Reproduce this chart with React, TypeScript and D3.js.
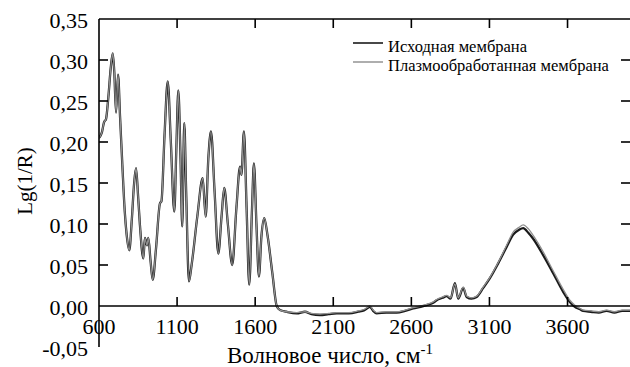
import * as d3 from 'd3';
import { useEffect } from 'react';

// Wavenumbers (cm-1)
const wavenumbers = [
  600, 619, 632, 645, 660, 675, 688, 698, 709, 722, 735, 750, 765, 777, 794, 810, 825, 837, 850, 862,
  884, 894, 907, 916, 930, 944, 965, 990, 1000, 1020, 1040, 1060, 1082, 1095, 1108, 1122, 1133, 1146, 1158, 1176,
  1193, 1230, 1264, 1283, 1300, 1317, 1340, 1364, 1385, 1402, 1425, 1453, 1480, 1503, 1512, 1528, 1545, 1562, 1580, 1592,
  1608, 1624, 1640, 1658, 1680, 1710, 1738, 1759, 1800, 1866, 1919, 1960, 2015, 2070, 2122, 2200, 2260, 2300, 2335, 2355,
  2378, 2440, 2506, 2560, 2612, 2660, 2698, 2740, 2762, 2800, 2826, 2851, 2879, 2900, 2932, 2954, 2985, 3018, 3060, 3103,
  3156, 3210, 3252, 3290, 3316, 3350, 3380, 3444, 3508, 3573, 3615, 3647, 3680, 3700, 3750, 3800, 3850, 3900, 3950, 4000,
];

// Исходная мембрана
const original = [
  0.205, 0.212, 0.224, 0.228, 0.255, 0.29, 0.308, 0.285, 0.236, 0.282, 0.23, 0.17, 0.115, 0.087, 0.068, 0.105, 0.15, 0.168, 0.135, 0.099,
  0.058, 0.083, 0.074, 0.083, 0.055, 0.032, 0.07, 0.125, 0.128, 0.21, 0.274, 0.2, 0.115, 0.19, 0.263, 0.18, 0.097, 0.223, 0.14, 0.03,
  0.05, 0.11, 0.156, 0.109, 0.18, 0.213, 0.14, 0.064, 0.11, 0.144, 0.1, 0.05, 0.12, 0.17, 0.16, 0.213, 0.12, 0.026, 0.12, 0.174,
  0.1, 0.036, 0.085, 0.107, 0.085, 0.04, 0.0, -0.005, -0.007, -0.009, -0.007, -0.01, -0.011, -0.01, -0.009, -0.009, -0.007, -0.005, -0.001, -0.006,
  -0.009, -0.008, -0.008, -0.006, -0.003, -0.001, 0.001, 0.004, 0.007, 0.01, 0.012, 0.009, 0.028, 0.009, 0.022, 0.011, 0.009, 0.011, 0.022, 0.034,
  0.052, 0.072, 0.087, 0.093, 0.095, 0.089, 0.082, 0.062, 0.04, 0.017, 0.005, -0.001, -0.004, -0.006, -0.007, -0.008, -0.006, -0.008, -0.006, -0.006,
];

// Плазмообработанная мембрана
const plasma = [
  0.205, 0.212, 0.224, 0.228, 0.255, 0.29, 0.308, 0.285, 0.236, 0.282, 0.23, 0.17, 0.115, 0.087, 0.068, 0.105, 0.15, 0.168, 0.135, 0.099,
  0.058, 0.083, 0.074, 0.083, 0.055, 0.032, 0.07, 0.125, 0.128, 0.21, 0.274, 0.2, 0.115, 0.19, 0.263, 0.18, 0.097, 0.223, 0.14, 0.03,
  0.05, 0.11, 0.156, 0.109, 0.18, 0.213, 0.14, 0.064, 0.11, 0.144, 0.1, 0.05, 0.12, 0.17, 0.16, 0.213, 0.12, 0.026, 0.12, 0.174,
  0.1, 0.036, 0.085, 0.107, 0.085, 0.04, 0.0, -0.005, -0.007, -0.008, -0.007, -0.009, -0.01, -0.009, -0.008, -0.008, -0.006, -0.004, 0.0, -0.005,
  -0.008, -0.007, -0.007, -0.005, -0.002, 0.0, 0.002, 0.005, 0.008, 0.011, 0.013, 0.01, 0.027, 0.01, 0.023, 0.012, 0.01, 0.012, 0.023, 0.035,
  0.053, 0.074, 0.09, 0.096, 0.099, 0.094, 0.086, 0.066, 0.043, 0.02, 0.007, 0.001, -0.003, -0.005, -0.006, -0.007, -0.005, -0.007, -0.005, -0.005,
];

const xTicks = [600, 1100, 1600, 2100, 2600, 3100, 3600];
const yTicks = [-0.05, 0, 0.05, 0.1, 0.15, 0.2, 0.25, 0.3, 0.35];
const legendLabels = ['Исходная мембрана', 'Плазмообработанная мембрана'];

const W = 630;
const H = 367;
const FONT = '"Liberation Serif", "Times New Roman", serif';

export default function App() {
  useEffect(() => {
    document.body.style.margin = '0';
  }, []);

  const x = d3.scaleLinear().domain([600, 4000]).range([99, 630]);
  const y = d3.scaleLinear().domain([-0.05, 0.35]).range([347, 19]);
  const fmt = (v: number) => v.toFixed(2).replace('.', ',');

  const line = d3
    .line<number>()
    .x((_, i) => x(wavenumbers[i]))
    .y((d) => y(d))
    .curve(d3.curveMonotoneX);

  const top = y(0.35);
  const zero = y(0);

  return (
    <svg width={W} height={H} style={{ display: 'block', background: '#fff' }} fontFamily={FONT}>
      <defs>
        <clipPath id="plot">
          <rect x={99} y={top} width={531} height={347 - top} />
        </clipPath>
      </defs>

      {/* spectra */}
      <g clipPath="url(#plot)">
        <path d={line(original) ?? ''} fill="none" stroke="#1a1a1a" strokeWidth={2.3} />
        <path d={line(plasma) ?? ''} fill="none" stroke="#8f8f8f" strokeWidth={1.3} />
      </g>

      {/* frame */}
      <line x1={99} x2={99} y1={top} y2={347} stroke="#000" strokeWidth={1.6} />
      <line x1={99} x2={630} y1={top} y2={top} stroke="#000" strokeWidth={1.6} />
      <line x1={99} x2={630} y1={zero} y2={zero} stroke="#000" strokeWidth={1.6} />

      {xTicks.slice(1).map((t) => (
        <g key={t}>
          <line x1={x(t)} x2={x(t)} y1={zero} y2={zero - 9} stroke="#000" strokeWidth={1.6} />
          <line x1={x(t)} x2={x(t)} y1={top} y2={top + 9} stroke="#000" strokeWidth={1.6} />
        </g>
      ))}
      {xTicks.map((t) => (
        <text key={t} x={x(t)} y={334} textAnchor="middle" fontSize={22}>
          {t}
        </text>
      ))}

      {yTicks.map((t) => (
        <g key={t}>
          {t > -0.05 && t < 0.35 && t !== 0 && (
            <>
              <line x1={99} x2={108} y1={y(t)} y2={y(t)} stroke="#000" strokeWidth={1.6} />
              <line x1={621} x2={630} y1={y(t)} y2={y(t)} stroke="#000" strokeWidth={1.6} />
            </>
          )}
          <text x={88} y={y(t)} dy="0.42em" textAnchor="end" fontSize={22}>
            {fmt(t)}
          </text>
        </g>
      ))}

      {/* axis titles */}
      <text x={227} y={363} fontSize={23}>
        Волновое число, см<tspan dy={-9} fontSize={15}>-1</tspan>
      </text>
      <text transform="translate(32,181) rotate(-90)" textAnchor="middle" fontSize={21}>
        Lg(1/R)
      </text>

      {/* legend */}
      {legendLabels.map((l, i) => (
        <g key={l}>
          <line
            x1={353}
            x2={383}
            y1={43 + i * 19}
            y2={43 + i * 19}
            stroke={i === 0 ? '#1a1a1a' : '#9a9a9a'}
            strokeWidth={1.6}
          />
          <text x={388} y={52 + i * 19} fontSize={16.5}>
            {l}
          </text>
        </g>
      ))}
    </svg>
  );
}
